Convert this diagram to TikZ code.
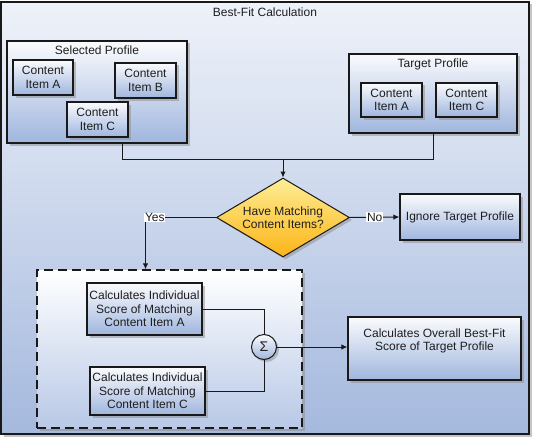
\documentclass[tikz,border=0pt]{standalone}
\usepackage{fontspec}
\setmainfont{Liberation Sans}
\usetikzlibrary{shapes.geometric,arrows.meta,shadows}
\definecolor{boxtop}{RGB}{250,251,253}
\definecolor{boxbot}{RGB}{160,182,222}
\definecolor{bgtop}{RGB}{238,242,249}
\definecolor{bgbot}{RGB}{165,185,222}
\definecolor{goldtop}{RGB}{253,238,150}
\definecolor{goldbot}{RGB}{252,180,22}
\definecolor{txt}{RGB}{30,30,30}
\tikzset{
  shad/.style={drop shadow={shadow xshift=2.5pt,shadow yshift=-2.5pt,fill=black!45,opacity=0.5}},
  bluebox/.style={draw=black!90,line width=1.2pt,rectangle,inner sep=0pt,top color=boxtop,bottom color=boxbot,shad,align=center,text=txt},
  plain/.style={text=txt,inner sep=0pt,align=center},
  conn/.style={draw=black!90,line width=1pt},
  arr/.style={conn,-{Latex[length=6pt,width=5.5pt]}},
  lbl/.style={fill=white,inner sep=0.8pt,text=txt}
}
\begin{document}
\begin{tikzpicture}[x=1pt,y=-1pt,font=\fontsize{12}{13.5}\selectfont]
\useasboundingbox (0,0) rectangle (534,441);
% outer frame
\node[draw=black!90,line width=1.2pt,top color=bgtop,bottom color=bgbot,shad,minimum width=528pt,minimum height=432pt,inner sep=0pt] (outer) at (265,218) {};
\node[plain] (title) at (265,12) {Best-Fit Calculation};
% selected profile
\node[bluebox,minimum width=180pt,minimum height=102pt] (selP) at (97,92) {};
\node[plain] (selT) at (97,50) {Selected Profile};
\node[bluebox,minimum width=60pt,minimum height=35pt] (sA) at (43,77.5) {Content\\Item A};
\node[bluebox,minimum width=61pt,minimum height=35pt] (sB) at (145.5,80.5) {Content\\Item B};
\node[bluebox,minimum width=61pt,minimum height=35pt] (sC) at (97.5,119.5) {Content\\Item C};
% target profile
\node[bluebox,minimum width=168pt,minimum height=79pt] (tgtP) at (433,93.5) {};
\node[plain] (tgtT) at (433,64) {Target Profile};
\node[bluebox,minimum width=61pt,minimum height=34pt] (tA) at (391.5,100) {Content\\Item A};
\node[bluebox,minimum width=61pt,minimum height=34pt] (tC) at (466.5,100) {Content\\Item C};
% merge
\coordinate (j) at (283,159);
\draw[conn] ([xshift=25pt]selP.south) |- (j);
\draw[conn] (tgtP.south) |- (j);
% decision
\node[diamond,draw=black!90,line width=1pt,top color=goldtop,bottom color=goldbot,shad,shape aspect=1.68,minimum width=133pt,minimum height=79pt,inner sep=1pt,align=center,text=txt] (dia) at (283,217.5) {Have Matching\\Content Items?};
\draw[arr] (j) -- (dia.north);
\node[bluebox,minimum width=120pt,minimum height=46pt] (ign) at (460,217) {Ignore Target Profile};
\draw[arr] (dia.east) -- (ign.west) node[lbl,midway] (no) {No};
% dashed group
\node[draw=black!90,line width=1.3pt,dash pattern=on 9pt off 5pt,top color=white,bottom color=boxbot!75,shad,minimum width=265pt,minimum height=158pt,inner sep=0pt] (grp) at (169.5,349) {};
\coordinate (ya) at (145.5,217.5);
\draw[arr] (dia.west) -- (ya) -- (ya |- grp.north);
\node[lbl,anchor=west] (yes) at (144,217.5) {Yes};
% calc boxes
\node[bluebox,minimum width=115pt,minimum height=52pt] (cA) at (144.5,309) {Calculates Individual\\Score of Matching\\Content Item A};
\node[bluebox,minimum width=115pt,minimum height=48pt] (cC) at (147.5,391) {Calculates Individual\\Score of Matching\\Content Item C};
\node[circle,draw=black!90,line width=1pt,top color=boxtop,bottom color=boxbot,shad,minimum size=25pt,inner sep=0pt,text=txt,font=\fontsize{14}{14}\selectfont] (sig) at (264,347) {Σ};
\draw[conn] (cA.east) -| (sig.north);
\draw[conn] (cC.east) -| (sig.south);
\node[bluebox,minimum width=173pt,minimum height=63pt] (ovr) at (434.5,348.5) {};
\node[plain] (ovrT) at (434.5,341) {Calculates Overall Best-Fit\\Score of Target Profile};
\draw[arr] (sig.east) -- (sig.east -| ovr.west);
\end{tikzpicture}
\end{document}
